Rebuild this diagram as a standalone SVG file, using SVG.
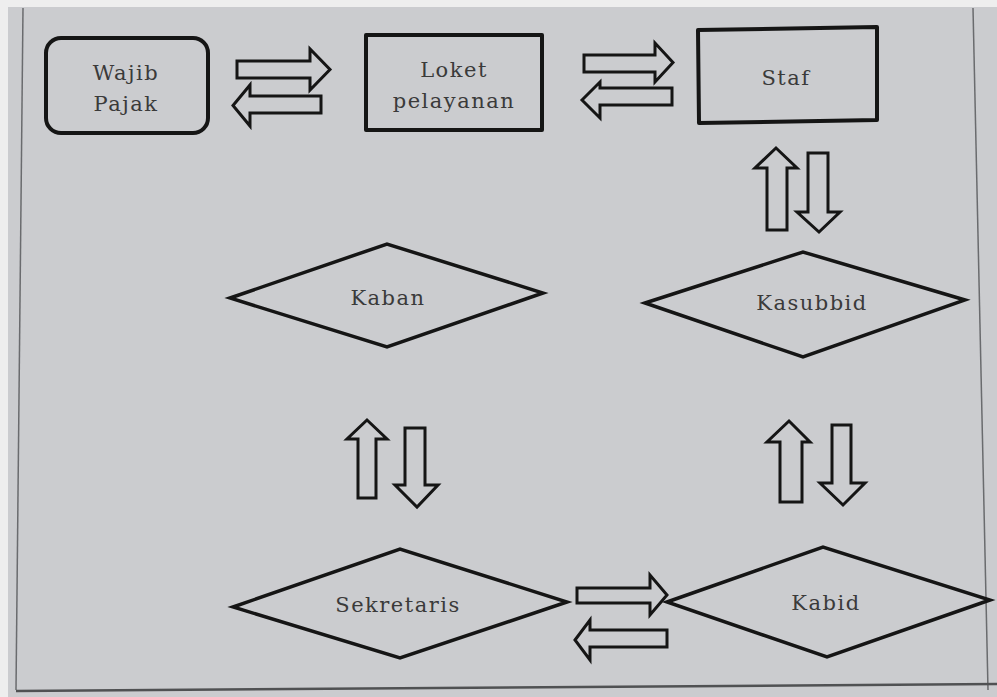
<svg xmlns="http://www.w3.org/2000/svg" width="997" height="697" viewBox="0 0 997 697">
<style>
.box{fill:none;stroke:#151515;stroke-width:4;stroke-linejoin:round}
.dia{fill:none;stroke:#151515;stroke-width:3.5;stroke-linejoin:miter}
.arr{fill:none;stroke:#151515;stroke-width:3;stroke-linejoin:miter}
.lbl{font-family:"DejaVu Serif","Liberation Serif",serif;font-size:21px;letter-spacing:1.5px;fill:#3a3a3a;text-anchor:middle}
.frame{stroke:#6a6b6e;stroke-width:1.5;fill:none}
</style>
<rect x="0" y="0" width="997" height="697" fill="#eeeeee"/>
<rect x="8" y="7" width="989" height="690" fill="#cbcccf"/>
<g id="frame">
<line class="frame" x1="23" y1="8" x2="16" y2="690"/>
<line class="frame" x1="973" y1="8" x2="988" y2="690"/>
<line x1="16" y1="691" x2="997" y2="684" stroke="#505153" stroke-width="2.5"/>
</g>
<g id="connectors">
<polygon class="arr" points="237,61 310,61 310,49 330,69.5 310,90 310,78 237,78"/>
<polygon class="arr" points="233,105.5 250,85 250,96 321,96 321,113 250,113 250,126"/>
<polygon class="arr" points="584,55 655,55 655,43 673,62.5 655,82 655,72 584,72"/>
<polygon class="arr" points="582,100 600,82 600,88 672,88 672,105 600,105 600,118"/>
<polygon class="arr" points="776,148 797,168 787,168 787,230 767,230 767,168 755,168"/>
<polygon class="arr" points="808,153 828,153 828,212 840,212 819,232 797,212 808,212"/>
<polygon class="arr" points="367,420 387,439 376,439 376,498 358,498 358,439 347,439"/>
<polygon class="arr" points="405,428 425,428 425,485 438,485 417,507 395,485 405,485"/>
<polygon class="arr" points="789,421 810,442 802,442 802,502 780,502 780,442 767,442"/>
<polygon class="arr" points="832,425 851,425 851,483 865,483 843,505 820,483 832,483"/>
<polygon class="arr" points="577,588 650,588 650,575 667,595 650,615 650,603 577,603"/>
<polygon class="arr" points="575,640 590,620 590,630 667,630 667,647 590,647 590,660"/>
</g>
<g id="wajib-pajak">
<rect class="box" x="46" y="38" width="162" height="95" rx="15"/>
<text class="lbl" x="126" y="80">Wajib</text>
<text class="lbl" x="126" y="111">Pajak</text>
</g>
<g id="loket-pelayanan">
<rect class="box" x="366" y="35" width="176" height="95"/>
<text class="lbl" x="454" y="77">Loket</text>
<text class="lbl" x="454" y="108">pelayanan</text>
</g>
<g id="staf">
<polygon class="box" points="698,30 877,27 877,120 699,123"/>
<text class="lbl" x="786" y="85">Staf</text>
</g>
<g id="kasubbid">
<polygon class="dia" points="645,303 803,252 965,300 803,357"/>
<text class="lbl" x="812" y="310">Kasubbid</text>
</g>
<g id="kaban">
<polygon class="dia" points="230,298 387,244 543,293 387,347"/>
<text class="lbl" x="388" y="305">Kaban</text>
</g>
<g id="sekretaris">
<polygon class="dia" points="233,607 400,549 567,602 400,658"/>
<text class="lbl" x="398" y="612">Sekretaris</text>
</g>
<g id="kabid">
<polygon class="dia" points="667,602 823,547 990,600 827,657"/>
<text class="lbl" x="826" y="610">Kabid</text>
</g>
</svg>
